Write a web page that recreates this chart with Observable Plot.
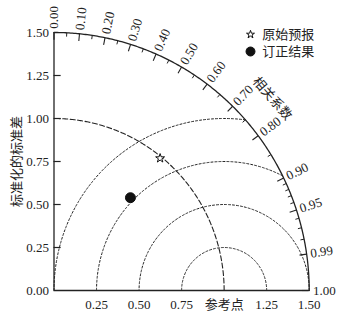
<!DOCTYPE html>
<html>
<head>
<meta charset="utf-8">
<script src="https://cdn.jsdelivr.net/npm/d3@7"></script>
<script src="https://cdn.jsdelivr.net/npm/@observablehq/plot@0.6"></script>
<style>
  html, body { margin: 0; padding: 0; background: #fff; }
</style>
</head>
<body>
<div id="chart"></div>
<script>
// ---- data ----
const refStd = 1.0;
const maxStd = 1.5;
const stdTicks = [0, 0.25, 0.5, 0.75, 1.0, 1.25, 1.5];
const xTicks = [0.25, 0.5, 0.75, 1.0, 1.25, 1.5];
const xTickLabels = ["0.25", "0.50", "0.75", "参考点", "1.25", "1.50"];
const rmsLevels = [0.25, 0.5, 0.75, 1.0];
const corrMajor = [0, 0.1, 0.2, 0.3, 0.4, 0.5, 0.6, 0.7, 0.8, 0.9, 0.95, 0.99, 1.0];
const corrMinor = [0.05, 0.15, 0.25, 0.35, 0.45, 0.55, 0.65, 0.75, 0.85, 0.91, 0.92, 0.93, 0.94, 0.96, 0.97, 0.98];
const models = ["原始预报", "订正结果"];
const modelStd = [0.99, 0.702];
const modelCorr = [0.630, 0.640];
const corrTitle = "相关系数";
const yTitle = "标准化的标准差";

// ---- derived geometry ----
const N = 240;
function arc(cx, r, a0, a1, key) {
  const pts = [];
  for (let i = 0; i <= N; i++) {
    const a = a0 + (a1 - a0) * i / N;
    pts.push({x: cx + r * Math.cos(a), y: r * Math.sin(a), key});
  }
  return pts;
}
const outerArc = arc(0, maxStd, 0, Math.PI / 2, "outer");
const refArc = arc(0, refStd, 0, Math.PI / 2, "ref");
const rmsArcs = rmsLevels.flatMap(r => {
  const c = refStd;
  const xi = (maxStd * maxStd - r * r + c * c) / (2 * c);
  const a0 = xi >= c + r ? 0 : Math.acos((xi - c) / r);
  return arc(c, r, a0, Math.PI, r);
});
const majLen = 0.042, minLen = 0.022;
const tickRows = (list, len) => list.map(c => {
  const t = Math.acos(c);
  return {x1: maxStd * Math.cos(t), y1: maxStd * Math.sin(t),
          x2: (maxStd - len) * Math.cos(t), y2: (maxStd - len) * Math.sin(t)};
});
const corrLabels = corrMajor.map(c => {
  const t = Math.acos(c), r = maxStd + 0.022;
  return {x: r * Math.cos(t), y: r * Math.sin(t), rot: -t * 180 / Math.PI, text: d3.format(".2f")(c)};
});
const titleAngle = 41 * Math.PI / 180, titleR = 1.70;
const points = models.map((m, i) => {
  const t = Math.acos(modelCorr[i]);
  return {name: m, x: modelStd[i] * Math.cos(t), y: modelStd[i] * Math.sin(t)};
});
const stdTickRows = stdTicks.filter(d => d > 0 && d < maxStd);

const fontFam = "'Liberation Serif', 'Times New Roman', 'Noto Sans CJK SC', serif";

const chart = Plot.plot({
  width: 346,
  height: 323,
  marginLeft: 53.5,
  marginRight: 37.3,
  marginTop: 32,
  marginBottom: 33,
  style: {fontFamily: fontFam, fontSize: "13px", color: "#222", background: "#fff", overflow: "visible"},
  x: {domain: [0, maxStd]},
  y: {domain: [0, maxStd]},
  symbol: {domain: models, range: ["star", "circle"]},
  color: {domain: models, range: ["white", "#111"]},
  marks: [
    Plot.axisY({ticks: stdTicks, tickFormat: d3.format(".2f"), tickSize: 0, tickPadding: 5,
      label: yTitle, labelAnchor: "center", labelArrow: "none", labelOffset: 42, fontSize: 13}),
    Plot.axisX({ticks: xTicks, tickFormat: (d, i) => xTickLabels[i], tickSize: 0, tickPadding: 9, label: null, fontSize: 13}),
    Plot.ruleY(stdTickRows, {x1: 0, x2: majLen * 1.0, y: d => d, stroke: "#222", strokeWidth: 1.2}),
    Plot.line(rmsArcs, {x: "x", y: "y", z: "key", stroke: "#222", strokeWidth: 1, strokeDasharray: "2,2"}),
    Plot.line(refArc, {x: "x", y: "y", stroke: "#222", strokeWidth: 1.1, strokeDasharray: "5,2.5"}),
    Plot.line(outerArc, {x: "x", y: "y", stroke: "#222", strokeWidth: 1.3}),
    Plot.ruleX([0], {y1: 0, y2: maxStd, stroke: "#222", strokeWidth: 1.3}),
    Plot.ruleY([0], {x1: 0, x2: maxStd, stroke: "#222", strokeWidth: 1.3}),
    Plot.link(tickRows(corrMajor, majLen), {x1: "x1", y1: "y1", x2: "x2", y2: "y2", stroke: "#222", strokeWidth: 1.1}),
    Plot.link(tickRows(corrMinor, minLen), {x1: "x1", y1: "y1", x2: "x2", y2: "y2", stroke: "#222", strokeWidth: 1}),
    Plot.text(corrLabels, {x: "x", y: "y", text: "text", rotate: "rot", textAnchor: "start", lineAnchor: "middle", fontSize: 13, fill: "#222"}),
    Plot.text([corrTitle], {x: titleR * Math.cos(titleAngle), y: titleR * Math.sin(titleAngle), text: d => d,
      rotate: 90 - titleAngle * 180 / Math.PI, fontSize: 13, fill: "#222"}),
    Plot.dot(points.filter(d => d.name === models[0]), {x: "x", y: "y", symbol: "name", fill: "name", stroke: "#111", strokeWidth: 1, r: 2.8}),
    Plot.dot(points.filter(d => d.name === models[1]), {x: "x", y: "y", symbol: "name", fill: "name", stroke: "#111", strokeWidth: 1, r: 5}),
    ...models.map((m, i) => Plot.dot([m], {frameAnchor: "top-right", dx: -58.7, dy: 2 + 17 * i, symbol: d => d, fill: d => d,
      stroke: "#111", strokeWidth: 1, r: i === 0 ? 2.5 : 4.5})),
    ...models.map((m, i) => Plot.text([m], {frameAnchor: "top-right", dx: -47, dy: 2 + 17 * i, text: d => d,
      textAnchor: "start", lineAnchor: "middle", fontSize: 13, fill: "#222"}))
  ]
});
document.getElementById("chart").appendChild(chart);
</script>
</body>
</html>
